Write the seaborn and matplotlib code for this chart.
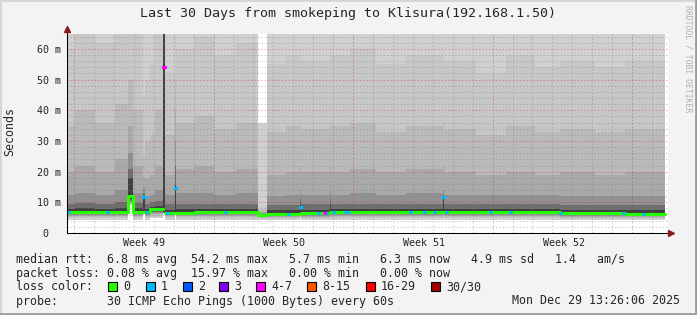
import numpy as np
import matplotlib
matplotlib.use("Agg")
import matplotlib.pyplot as plt
import seaborn as sns
from matplotlib.lines import Line2D
from matplotlib.patches import Rectangle

# ---------------- data ----------------
# segment edges along the 30 day window (days from window start)
seg_edges = [0.00, 0.40, 1.40, 2.41, 3.06, 3.31, 3.81, 3.91, 4.17, 4.42, 4.82, 4.92,
             5.42, 5.47, 6.40, 7.38, 8.50, 9.58, 10.04, 11.00, 11.69, 11.74, 13.20,
             13.25, 14.20, 15.50, 17.00, 18.87, 18.92, 20.50, 22.00, 23.50, 24.74,
             26.50, 28.00, 30.00]

# median rtt per segment (ms) and loss class (index into legend)
median_ms = [6.8, 6.8, 6.8, 6.8, 12.0, 6.8, 11.7, 6.8, 7.8, 7.8, 54.2, 6.5, 14.7, 6.6,
             6.7, 6.7, 6.7, 5.9, 6.2, 6.3, 8.5, 6.4, 6.7, 6.7, 6.8, 6.8, 6.8, 11.7,
             6.8, 6.8, 6.8, 6.8, 6.4, 6.4, 6.3]
loss_cls = [0, 0, 0, 0, 0, 0, 1, 0, 0, 0, 4, 0, 1, 0, 0, 0, 0, 0, 0, 0, 1, 0, 0, 0, 0,
            0, 0, 1, 0, 0, 0, 0, 0, 0, 0]

# smoke layers (outer -> inner): upper and lower rtt bounds per segment (ms)
up0 = [80, 80, 80, 80, 80, 80, 80, 80, 80, 80, 80, 80, 80, 80, 80, 80, 80, 36, 80, 80,
       80, 80, 80, 80, 80, 80, 80, 80, 80, 80, 80, 80, 80, 80, 80]
up1 = [60, 70, 62, 70, 75, 66, 45, 50, 55, 68, 80, 52, 70, 60, 64, 58, 62, 8.5, 55, 58,
       60, 56, 60, 58, 60, 55, 58, 60, 56, 52, 58, 54, 56, 54, 56]
up2 = [35, 40, 36, 42, 50, 40, 25, 30, 32, 40, 80, 32, 50, 36, 38, 34, 36, 7.5, 33, 35,
       36, 34, 36, 35, 36, 33, 35, 36, 34, 32, 35, 33, 34, 33, 34]
up3 = [20, 22, 20, 24, 35, 22, 18, 18, 19, 22, 80, 19, 40, 21, 22, 20, 21, 7.0, 19, 20,
       22, 20, 22, 20, 21, 20, 21, 22, 20, 19, 20, 19, 20, 19, 20]
up4 = [12.5, 13, 12.5, 14, 26, 13, 15, 12, 12.5, 14, 80, 12.5, 30, 13, 13, 12.5, 13, 6.6,
       12, 12.5, 14, 12.5, 14, 12.5, 13, 12.5, 13, 14, 12.5, 12.5, 12.5, 12.5, 12, 12, 12]
up5 = [9.5, 9.8, 9.5, 10, 21, 9.8, 13, 9.3, 10, 10.5, 80, 9.3, 22, 9.6, 9.6, 9.5, 9.5,
       6.3, 9, 9.2, 11, 9.3, 11, 9.4, 9.5, 9.4, 9.5, 12.5, 9.4, 9.4, 9.4, 9.4, 9, 9, 9]
up6 = [7.8, 8.0, 7.8, 8.0, 18, 8.0, 12.2, 7.8, 8.6, 8.8, 80, 7.6, 15.5, 7.8, 7.8, 7.8,
       7.8, 6.1, 7.4, 7.5, 9.2, 7.6, 9.0, 7.8, 7.9, 7.8, 7.9, 12.2, 7.8, 7.8, 7.8, 7.8,
       7.4, 7.4, 7.4]
lo0 = [4.4, 4.4, 4.4, 4.4, 9.2, 4.4, 6.3, 4.4, 4.8, 4.8, 6.4, 4.3, 6.2, 4.3, 4.3, 4.3,
       4.3, 4.3, 4.2, 4.2, 4.8, 4.2, 4.3, 4.3, 4.4, 4.4, 4.4, 4.6, 4.4, 4.4, 4.4, 4.4,
       4.2, 4.2, 4.2]
lo1 = [4.8, 4.8, 4.8, 4.8, 9.4, 4.8, 6.4, 4.8, 5.3, 5.3, 6.45, 4.7, 6.3, 4.7, 4.7, 4.7,
       4.7, 4.6, 4.5, 4.5, 5.1, 4.5, 4.7, 4.7, 4.8, 4.8, 4.8, 5.0, 4.8, 4.8, 4.8, 4.8,
       4.5, 4.5, 4.5]
lo2 = [5.2, 5.2, 5.2, 5.2, 9.6, 5.2, 6.5, 5.2, 5.8, 5.8, 6.5, 5.1, 6.4, 5.1, 5.1, 5.1,
       5.1, 4.9, 4.9, 4.9, 5.5, 4.9, 5.1, 5.1, 5.2, 5.2, 5.2, 5.4, 5.2, 5.2, 5.2, 5.2,
       4.9, 4.9, 4.9]
lo3 = [5.6, 5.6, 5.6, 5.6, 9.8, 5.6, 6.6, 5.6, 6.2, 6.2, 6.55, 5.5, 6.5, 5.5, 5.5, 5.5,
       5.5, 5.1, 5.3, 5.3, 5.9, 5.3, 5.5, 5.5, 5.6, 5.6, 5.6, 5.8, 5.6, 5.6, 5.6, 5.6,
       5.3, 5.3, 5.3]
lo4 = [6.0, 6.0, 6.0, 6.0, 10.0, 6.0, 6.7, 6.0, 6.6, 6.6, 6.6, 5.9, 6.6, 5.9, 5.9, 5.9,
       5.9, 5.3, 5.7, 5.7, 6.1, 5.7, 5.9, 5.9, 6.0, 6.0, 6.0, 6.2, 6.0, 6.0, 6.0, 6.0,
       5.7, 5.7, 5.7]
lo5 = [6.3, 6.3, 6.3, 6.3, 10.5, 6.3, 6.8, 6.3, 6.9, 6.9, 6.65, 6.1, 6.7, 6.1, 6.1, 6.1,
       6.1, 5.5, 5.9, 5.9, 6.3, 5.9, 6.1, 6.1, 6.3, 6.3, 6.3, 6.5, 6.3, 6.3, 6.3, 6.3,
       5.9, 5.9, 5.9]
lo6 = [6.55, 6.55, 6.55, 6.55, 11.0, 6.55, 6.9, 6.55, 7.2, 7.2, 6.7, 6.3, 6.8, 6.3, 6.3,
       6.3, 6.3, 5.7, 6.05, 6.05, 6.4, 6.05, 6.3, 6.3, 6.55, 6.55, 6.55, 6.7, 6.55, 6.55,
       6.55, 6.55, 6.05, 6.05, 6.05]

# short single-loss spots on the median line (days) and a 4-7 spot
loss1_days = [0.05, 2.01, 3.96, 5.02, 7.93, 11.09, 12.59, 13.00, 13.35, 13.95, 14.10,
              17.21, 17.91, 18.41, 19.02, 21.22, 22.23, 24.74, 27.90, 28.90]
loss4_days = [12.90]

week_labels = ["Week 49", "Week 50", "Week 51", "Week 52"]
week_pos = [3.86, 10.89, 17.91, 24.94]
ytick_vals = [0, 10, 20, 30, 40, 50, 60]
ytick_text = ["0  ", "10 m", "20 m", "30 m", "40 m", "50 m", "60 m"]

legend_labels = ["0", "1", "2", "3", "4-7", "8-15", "16-29", "30/30"]
legend_colors = ["#26ff00", "#00b8ff", "#0059ff", "#7e00ff", "#ff00ff", "#ff5500",
                 "#ff0000", "#a10000"]

title = "Last 30 Days from smokeping to Klisura(192.168.1.50)"
stat_rtt = ("median rtt:  6.8 ms avg  54.2 ms max   5.7 ms min  "
            " 6.3 ms now   4.9 ms sd   1.4   am/s")
stat_loss = "packet loss: 0.08 % avg  15.97 % max   0.00 % min   0.00 % now"
probe_txt = "probe:       30 ICMP Echo Pings (1000 Bytes) every 60s"
date_txt = "Mon Dec 29 13:26:06 2025"

# ---------------- drawing ----------------
W, H = 697, 315
sns.set_style("white")
plt.rcParams["font.family"] = ["DejaVu Sans Mono", "DejaVu Sans"]

fig = plt.figure(figsize=(W / 100, H / 100), dpi=100)
fig.patch.set_facecolor("#f3f3f3")

def px(x, y):
    return x / W, 1 - y / H

XMAX = 30.15
YMAX = 65.0
ax = fig.add_axes([67 / W, (H - 233) / H, 601 / W, 199.4 / H])
ax.set_facecolor("white")
ax.set_xlim(0, XMAX)
ax.set_ylim(0, YMAX)

edges = np.array(seg_edges)
def ext(a):
    a = np.asarray(a, dtype=float)
    return np.r_[a, a[-1]]

ups = [up0, up1, up2, up3, up4, up5, up6]
los = [lo0, lo1, lo2, lo3, lo4, lo5, lo6]
shades = ["#d0d0d0", "#c7c7c7", "#bababa", "#a9a9a9", "#919191", "#6e6e6e", "#404040"]
for u, l, c in zip(ups, los, shades):
    ax.fill_between(edges, ext(l), np.minimum(ext(u), YMAX), step="post",
                    color=c, lw=0, zorder=2)

# grid (drawn on top of the smoke, as rrdtool does)
day0 = 0.35
minor_gray = (0.5, 0.5, 0.5, 0.42)
major_red = (0.85, 0.1, 0.1, 0.40)
dots = (0, (1.4, 2.0))
for k in range(31):
    d = day0 + k
    if d > XMAX:
        break
    col = major_red if k % 7 == 0 else minor_gray
    ax.axvline(d, color=col, lw=0.72, ls=dots, zorder=3)
for v in range(2, 65, 2):
    col = major_red if v % 10 == 0 else minor_gray
    ax.axhline(v, color=col, lw=0.72, ls=dots, zorder=3)

# median line coloured by loss
med = np.array(median_ms, dtype=float)
loss = np.array(loss_cls)
green_y = np.where(loss == 0, med, np.nan)
ax.step(edges, ext(green_y), where="post", color=legend_colors[0], lw=2.2, zorder=4)
for i in np.where(loss > 0)[0]:
    ax.plot([edges[i], edges[i + 1]], [med[i], med[i]], color=legend_colors[loss[i]],
            lw=2.2, solid_capstyle="projecting", zorder=5)

def med_at(d):
    return med[np.searchsorted(edges, d, side="right") - 1]

for d in loss1_days:
    m = med_at(d)
    ax.plot([d, d + 0.06], [m, m], color=legend_colors[1], lw=2.2, zorder=5)
for d in loss4_days:
    m = med_at(d)
    ax.plot([d, d + 0.06], [m, m], color=legend_colors[4], lw=2.2, zorder=5)

# axes
for s in ax.spines.values():
    s.set_visible(False)
ax.plot([0, XMAX], [0, 0], color="black", lw=0.75, clip_on=False, zorder=6)
ax.plot([0, 0], [0, 66.3], color="black", lw=0.75, clip_on=False, zorder=6)
ax.plot([30.28], [0], marker=">", ms=4.5, color="#8b1a1a", clip_on=False, zorder=7)
ax.plot([0], [66.6], marker="^", ms=4.5, color="#8b1a1a", clip_on=False, zorder=7)

ax.set_xticks(week_pos)
ax.set_xticklabels(week_labels, fontsize=7.2)
ax.set_yticks(ytick_vals)
ax.set_yticklabels(ytick_text, fontsize=7.2)
ax.tick_params(axis="x", length=0, pad=3.5)
ax.tick_params(axis="y", length=0, pad=4.3)
ax.grid(False)

# texts
fig.text(*px(348.5, 14), title, ha="center", va="center", fontsize=9.6)
fig.text(*px(10, 131), "Seconds", rotation=90, ha="center", va="center", fontsize=8.4)
fig.text(*px(688, 59), "RRDTOOL / TOBI OETIKER", rotation=270, ha="center",
         va="center", fontsize=5.9, color="#b0b0b0")

fs = 8.4
fig.text(*px(16, 259), stat_rtt, ha="left", va="center", fontsize=fs)
fig.text(*px(16, 273), stat_loss, ha="left", va="center", fontsize=fs)
fig.text(*px(16, 287), "loss color:", ha="left", va="center", fontsize=fs)
fig.text(*px(16, 301), probe_txt, ha="left", va="center", fontsize=fs)
fig.text(*px(680, 301), date_txt, ha="right", va="center", fontsize=fs)

box_x = [108, 146, 183, 219, 256, 307, 366, 431]
for bx, lab, c in zip(box_x, legend_labels, legend_colors):
    fig.patches.append(Rectangle(px(bx, 291), 9 / W, 9 / H, transform=fig.transFigure,
                                 facecolor=c, edgecolor="black", lw=0.8))
    fig.text(*px(bx + 15, 287), lab, ha="left", va="center", fontsize=fs)

# frame of the image
fig.add_artist(Line2D([0, 1], [1 - 0.7 / H] * 2, color="#d6d6d6", lw=1.4))
fig.add_artist(Line2D([0.7 / W] * 2, [0, 1], color="#d6d6d6", lw=1.4))
fig.add_artist(Line2D([0, 1], [1.2 / H] * 2, color="#9c9c9c", lw=2.0))
fig.add_artist(Line2D([1 - 1.2 / W] * 2, [0, 1], color="#9c9c9c", lw=2.0))

fig.savefig("out.png", dpi=100, facecolor=fig.get_facecolor())
